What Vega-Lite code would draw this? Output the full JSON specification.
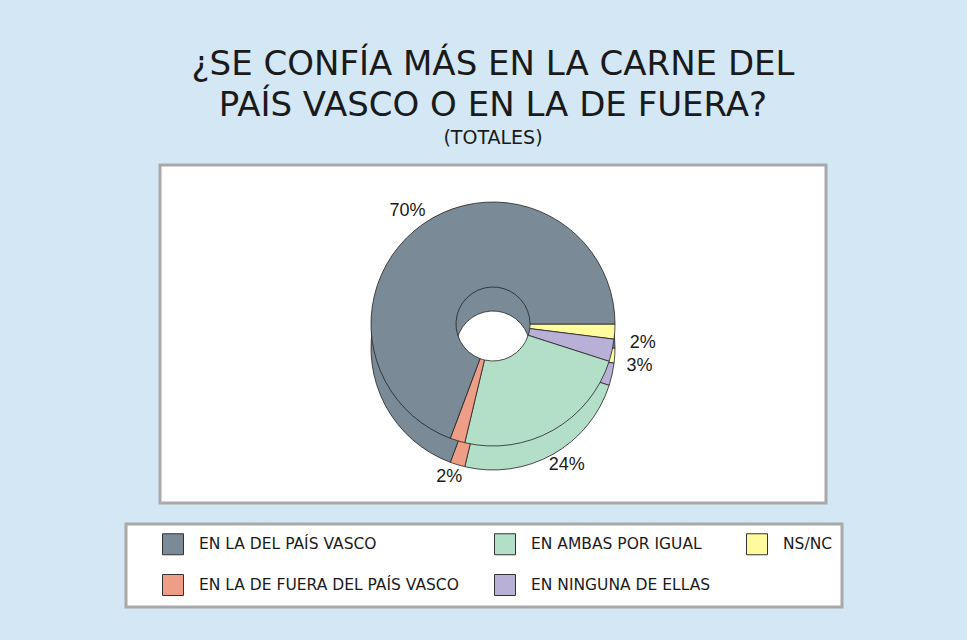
{
  "$schema": "https://vega.github.io/schema/vega-lite/v6.json",
  "autosize": {"type": "none"},
  "width": 666,
  "height": 338,
  "padding": {"left": 160, "top": 165, "right": 141, "bottom": 137},
  "background": "#d3e7f5",
  "view": {"fill": "white", "stroke": "#a9a9a9", "strokeWidth": 3},
  "title": {
    "text": ["¿SE CONFÍA MÁS EN LA CARNE DEL", "PAÍS VASCO O EN LA DE FUERA?"],
    "subtitle": "(TOTALES)",
    "anchor": "middle",
    "font": "DejaVu Sans",
    "fontSize": 34,
    "fontWeight": "normal",
    "color": "#1a1a1a",
    "lineHeight": 41,
    "subtitleFont": "DejaVu Sans",
    "subtitleFontSize": 19,
    "subtitleColor": "#1a1a1a",
    "subtitlePadding": 6,
    "offset": 17
  },
  "data": {
    "values": [
      {"respuesta": "Ns/Nc", "valor": 0.02, "orden": 1},
      {"respuesta": "En ninguna de ellas", "valor": 0.03, "orden": 2},
      {"respuesta": "En ambas por igual", "valor": 0.24, "orden": 3},
      {"respuesta": "En la de fuera del País Vasco", "valor": 0.02, "orden": 4},
      {"respuesta": "En la del País Vasco", "valor": 0.70, "orden": 5}
    ]
  },
  "encoding": {
    "theta": {"field": "valor", "type": "quantitative", "stack": true, "scale": {"range": [1.5708, 7.854]}},
    "order": {"field": "orden", "type": "quantitative"}
  },
  "layer": [
    {
      "mark": {"type": "arc", "outerRadius": 122, "innerRadius": 37, "stroke": "#222", "strokeWidth": 0.8, "yOffset": 14},
      "encoding": {
        "color": {"field": "respuesta", "type": "nominal",
          "scale": {"domain": ["En la del País Vasco", "En ambas por igual", "Ns/Nc", "En la de fuera del País Vasco", "En ninguna de ellas"],
                    "range": ["#7a8b97", "#b3dfc9", "#fdfb9e", "#ee9e86", "#b8b0d6"]},
          "legend": {
            "orient": "none", "legendX": -34, "legendY": 359,
            "title": " ", "titleOrient": "left", "titlePadding": 27, "titleFontSize": 8,
            "columns": 3, "direction": "horizontal",
            "columnPadding": 33, "rowPadding": 15, "padding": 9,
            "symbolType": "square", "symbolSize": 441, "symbolStrokeColor": "#333", "symbolStrokeWidth": 1, "symbolOpacity": 1,
            "labelFont": "DejaVu Sans", "labelFontSize": 15.5, "labelColor": "#1a1a1a", "labelOffset": 15, "labelLimit": 400,
            "labelExpr": "upper(datum.label)",
            "fillColor": "white", "strokeColor": "#a9a9a9",
            "encode": {"legend": {"update": {"strokeWidth": {"value": 3}}}}
          }
        }
      }
    },
    {
      "mark": {"type": "arc", "outerRadius": 122, "innerRadius": 37, "stroke": "#222", "strokeWidth": 0.8, "yOffset": -10},
      "encoding": {
        "color": {"field": "respuesta", "type": "nominal",
          "scale": {"domain": ["En la del País Vasco", "En ambas por igual", "Ns/Nc", "En la de fuera del País Vasco", "En ninguna de ellas"],
                    "range": ["#7a8b97", "#b3dfc9", "#fdfb9e", "#ee9e86", "#b8b0d6"]},
          "legend": {
            "orient": "none", "legendX": -34, "legendY": 359,
            "title": " ", "titleOrient": "left", "titlePadding": 27, "titleFontSize": 8,
            "columns": 3, "direction": "horizontal",
            "columnPadding": 33, "rowPadding": 15, "padding": 9,
            "symbolType": "square", "symbolSize": 441, "symbolStrokeColor": "#333", "symbolStrokeWidth": 1, "symbolOpacity": 1,
            "labelFont": "DejaVu Sans", "labelFontSize": 15.5, "labelColor": "#1a1a1a", "labelOffset": 15, "labelLimit": 400,
            "labelExpr": "upper(datum.label)",
            "fillColor": "white", "strokeColor": "#a9a9a9",
            "encode": {"legend": {"update": {"strokeWidth": {"value": 3}}}}
          }
        }
      }
    },
    {
      "mark": {"type": "text", "radius": 150, "font": "Liberation Sans", "fontSize": 18, "color": "#1a1a1a"},
      "encoding": {
        "text": {"field": "valor", "type": "quantitative", "format": ".0%"}
      }
    }
  ]
}
